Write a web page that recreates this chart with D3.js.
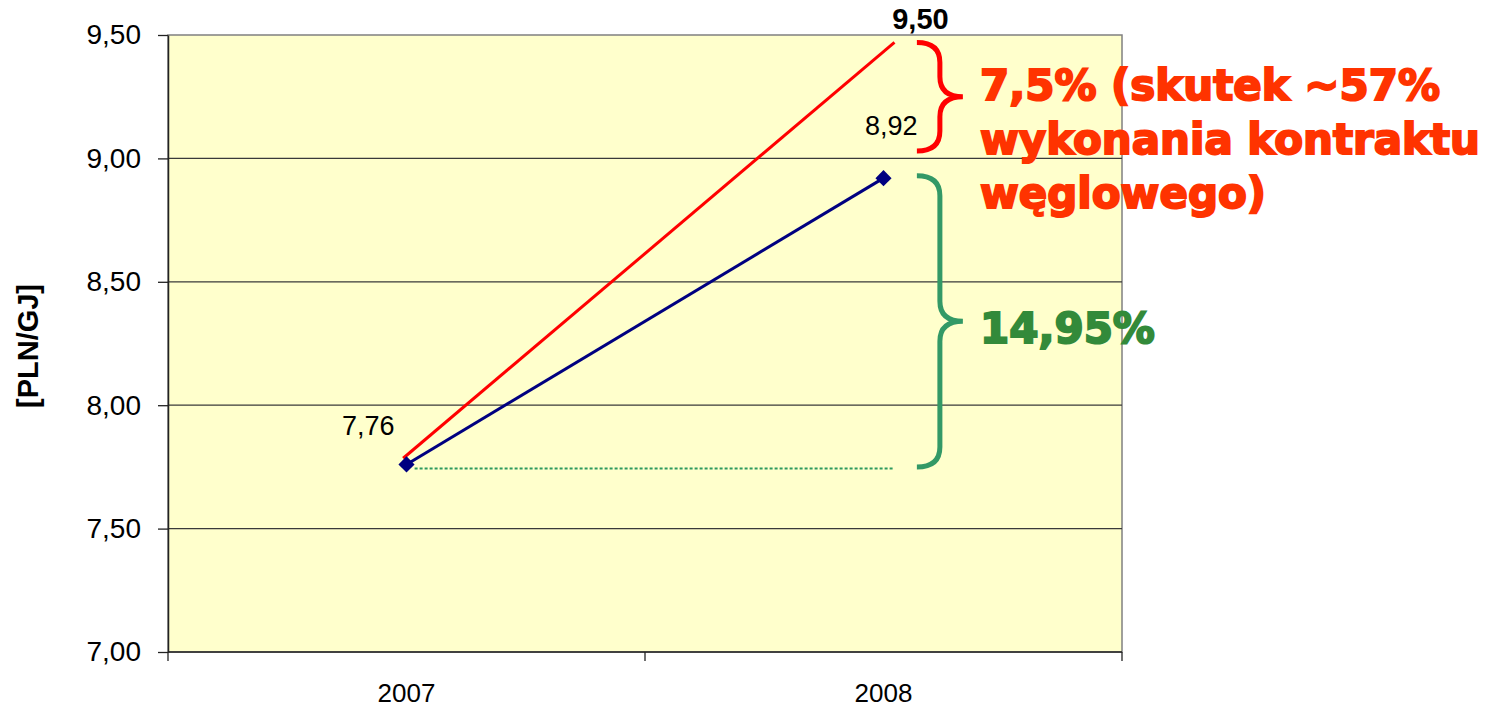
<!DOCTYPE html>
<html>
<head>
<meta charset="utf-8">
<script src="https://cdn.jsdelivr.net/npm/d3@7"></script>
<style>
  body { margin: 0; background: #fff; }
  svg { display: block; font-family: "Liberation Sans", Arial, sans-serif; }
</style>
</head>
<body>
<svg id="drawing_region"></svg>
<script>
// data
const years = ['2007', '2008']
const priceValues = [7.76, 8.92]
const yTicks = [7.0, 7.5, 8.0, 8.5, 9.0, 9.5]
// hand drawn red line (position 0 = 2007, 1 = 2008)
const redPos = [-0.007, 1.023]
const redValues = [7.785, 9.47]
const basePos = [0.017, 1.02]
const baseValue = 7.75
const redBrace = [9.47, 9.03]
const greenBrace = [8.93, 7.75]
const topLabel = '9,50'

const config = {
  width: 1492,
  height: 707,
  margin: {top: 35, left: 168, right: 370, bottom: 55}
}

const svg = d3.select('#drawing_region')
  .attr('width', config.width)
  .attr('height', config.height)

const inner_width = config.width - config.margin.left - config.margin.right
const inner_height = config.height - config.margin.top - config.margin.bottom

const chart = svg.append('g')
  .attr('transform', `translate(${config.margin.left},${config.margin.top})`)

const locale = d3.formatLocale({decimal: ',', thousands: ' ', grouping: [3], currency: ['', '']})
const fmt = locale.format('.2f')

const xscale = d3.scaleBand().domain(years).range([0, inner_width]).padding(0)
const yscale = d3.scaleLinear().domain([7, 9.5]).range([inner_height, 0])
const xpos = d3.scaleLinear().domain([0, 1])
  .range([xscale(years[0]) + xscale.bandwidth() / 2, xscale(years[1]) + xscale.bandwidth() / 2])

// plot area
chart.append('rect')
  .attr('width', inner_width)
  .attr('height', inner_height)
  .attr('fill', '#ffffcc')
  .attr('stroke', '#808080')
  .attr('stroke-width', 1.5)

// grid lines
chart.selectAll('.grid').data(yTicks.filter(d => d > 7 && d < 9.5)).enter()
  .append('line')
  .attr('x1', 0).attr('x2', inner_width)
  .attr('y1', d => yscale(d)).attr('y2', d => yscale(d))
  .attr('stroke', '#3a3a3a')
  .attr('stroke-width', 1.3)

// y axis
const yaxis = d3.axisLeft(yscale).tickValues(yTicks).tickFormat(fmt).tickSize(10).tickSizeOuter(0).tickPadding(17)
const yaxis_group = chart.append('g').call(yaxis)
yaxis_group.select('.domain').attr('stroke', '#222').attr('stroke-width', 1.5)
yaxis_group.selectAll('.tick line').attr('stroke', '#222').attr('stroke-width', 1.3)
yaxis_group.selectAll('.tick text')
  .attr('font-size', 28)
  .attr('fill', '#000')
  .attr('font-family', '"Liberation Sans", Arial, sans-serif')

// x axis
const xaxis_group = chart.append('g').attr('transform', `translate(0,${inner_height})`)
xaxis_group.append('line')
  .attr('x1', 0).attr('x2', inner_width)
  .attr('stroke', '#222').attr('stroke-width', 1.5)
const xBounds = [0].concat(years.map(d => xscale(d) + xscale.bandwidth()))
xaxis_group.selectAll('.xtick').data(xBounds).enter()
  .append('line')
  .attr('x1', d => d).attr('x2', d => d)
  .attr('y1', 0).attr('y2', 9)
  .attr('stroke', '#222').attr('stroke-width', 1.3)
xaxis_group.selectAll('.xlabel').data(years).enter()
  .append('text')
  .attr('x', d => xscale(d) + xscale.bandwidth() / 2)
  .attr('y', 50)
  .attr('text-anchor', 'middle')
  .attr('font-size', 26)
  .text(d => d)

// y title
svg.append('text')
  .attr('transform', `translate(38,346) rotate(-90)`)
  .attr('text-anchor', 'middle')
  .attr('font-size', 29)
  .attr('font-weight', 'bold')
  .text('[PLN/GJ]')

// baseline dotted
chart.append('line')
  .attr('x1', xpos(basePos[0])).attr('x2', xpos(basePos[1]))
  .attr('y1', yscale(baseValue) + 1.5).attr('y2', yscale(baseValue) + 1.5)
  .attr('stroke', '#2e9a5e')
  .attr('stroke-width', 2)
  .attr('stroke-dasharray', '3,2')

// red line
const redData = redPos.map((p, i) => ({p: p, v: redValues[i]}))
chart.append('path')
  .datum(redData)
  .attr('d', d3.line().x(d => xpos(d.p)).y(d => yscale(d.v)))
  .attr('stroke', '#ff0000')
  .attr('stroke-width', 3)
  .attr('fill', 'none')

// blue series
const blueData = years.map((y, i) => ({year: y, value: priceValues[i]}))
chart.append('path')
  .datum(blueData)
  .attr('d', d3.line().x(d => xscale(d.year) + xscale.bandwidth() / 2).y(d => yscale(d.value)))
  .attr('stroke', '#000080')
  .attr('stroke-width', 3)
  .attr('fill', 'none')
chart.selectAll('.marker').data(blueData).enter()
  .append('path')
  .attr('d', d3.symbol().type(d3.symbolSquare).size(130))
  .attr('transform', d => `translate(${xscale(d.year) + xscale.bandwidth() / 2},${yscale(d.value)}) rotate(45)`)
  .attr('fill', '#000080')

// data labels
const labelOffsets = [[-12, -29], [34, -43]]
chart.selectAll('.dlabel').data(blueData).enter()
  .append('text')
  .attr('x', (d, i) => xscale(d.year) + xscale.bandwidth() / 2 + labelOffsets[i][0])
  .attr('y', (d, i) => yscale(d.value) + labelOffsets[i][1])
  .attr('text-anchor', 'end')
  .attr('font-size', 27)
  .text(d => fmt(d.value))

chart.append('text')
  .attr('x', xpos(redPos[1]) + 26)
  .attr('y', yscale(9.5) - 6)
  .attr('text-anchor', 'middle')
  .attr('font-size', 29)
  .attr('font-weight', 'bold')
  .text(topLabel)

// braces
function brace(x0, y0, y1){
  const xv = x0 + 23, xt = x0 + 46, ym = (y0 + y1) / 2, r = 20
  return `M${x0},${y0} Q${xv},${y0} ${xv},${y0 + r} L${xv},${ym - r} Q${xv},${ym} ${xt},${ym}` +
    ` Q${xv},${ym} ${xv},${ym + r} L${xv},${y1 - r} Q${xv},${y1} ${x0},${y1}`
}
const braceX = xpos(1.07)
chart.append('path')
  .attr('d', brace(braceX, yscale(redBrace[0]), yscale(redBrace[1])))
  .attr('stroke', '#ff0000').attr('stroke-width', 5).attr('fill', 'none')
chart.append('path')
  .attr('d', brace(braceX, yscale(greenBrace[0]), yscale(greenBrace[1])))
  .attr('stroke', '#339966').attr('stroke-width', 5).attr('fill', 'none')

// annotations
const redLines = ['7,5% (skutek ~57%', 'wykonania kontraktu', 'węglowego)']
svg.append('text')
  .attr('x', 980)
  .attr('y', 100)
  .attr('font-family', '"DejaVu Sans", sans-serif')
  .attr('font-weight', 'bold')
  .attr('font-size', 42)
  .attr('fill', '#ff3300')
  .attr('stroke', '#ff3300')
  .attr('stroke-width', 2)
  .selectAll('tspan').data(redLines).enter()
  .append('tspan')
  .attr('x', 980)
  .attr('dy', (d, i) => i === 0 ? 0 : 54)
  .text(d => d)

svg.append('text')
  .attr('x', 980)
  .attr('y', 343)
  .attr('font-family', '"DejaVu Sans", sans-serif')
  .attr('font-weight', 'bold')
  .attr('font-size', 42)
  .attr('fill', '#338a3a')
  .attr('stroke', '#338a3a')
  .attr('stroke-width', 2)
  .text('14,95%')
</script>
</body>
</html>
